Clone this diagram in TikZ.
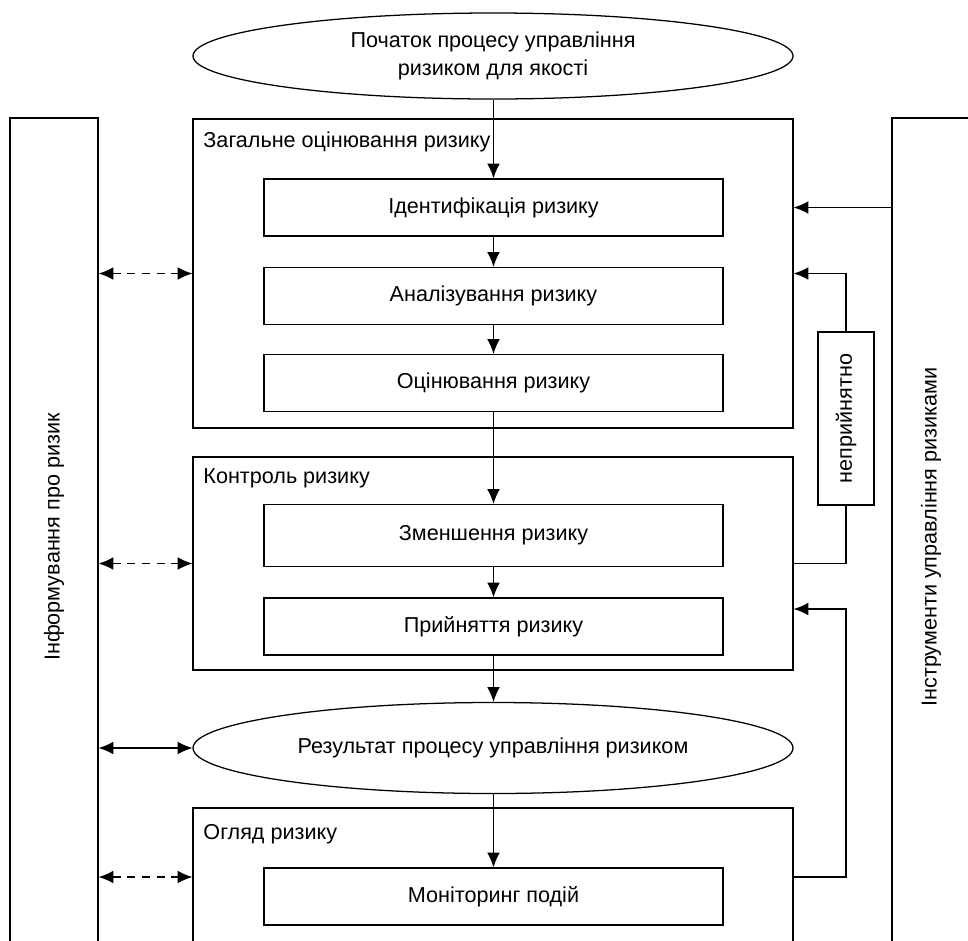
\documentclass[tikz,border=0pt]{standalone}
\usepackage{fontspec}
\setmainfont{Liberation Sans}
\usetikzlibrary{positioning, calc, shapes.geometric, arrows.meta}

\tikzset{
  box/.style={draw, minimum width=344.25pt, minimum height=42.75pt, inner sep=0pt},
  group/.style={draw, minimum width=450pt, inner sep=0pt},
  oval/.style={draw, ellipse, minimum width=450pt, inner sep=0pt},
  tall/.style={draw, minimum height=628.5pt, inner sep=0pt},
  title/.style={anchor=west},
  dasharrow/.style={<->, dash pattern=on 6pt off 5pt},
}

\begin{document}
\begin{tikzpicture}[x=0.75pt, y=-0.75pt, >={Latex[length=11pt,width=9.5pt]},
  line width=0.95pt, font=\fontsize{16.2pt}{20.5pt}\selectfont]

\useasboundingbox (0,0) rectangle (968,940);
\clip (0,0) rectangle (968,940);

% side columns
\node[tall, minimum width=66pt, label={[rotate=90]center:Інформування про ризик}] (info) at (54,537) {};
\node[tall, minimum width=58.5pt, label={[rotate=90]center:Інструменти управління ризиками}] (tools) at (931,537) {};

% start and result
\node[oval, minimum height=64.5pt, label={[align=center]center:Початок процесу управління\\ризиком для якості}] (start) at (493,56) {};
\node[oval, minimum height=68.25pt] (res) at (493,748) {Результат процесу управління ризиком};

% groups
\node[group, minimum height=231.75pt] (g1) at (493,273.5) {};
\node[group, minimum height=159.75pt] (g2) at (493,563.5) {};
\node[group, minimum height=103.5pt] (g3) at (493,877) {};

\node[title] (g1t) at ($(g1.north west)+(6,24)$) {Загальне оцінювання ризику};
\node[title] (g2t) at ($(g2.north west)+(6,22)$) {Контроль ризику};
\node[title] (g3t) at ($(g3.north west)+(6,27)$) {Огляд ризику};

% steps
\node[box] (ident) at (493.5,207.5) {Ідентифікація ризику};
\node[box] (anal) at (493.5,296) {Аналізування ризику};
\node[box] (eval) at (493.5,383) {Оцінювання ризику};
\node[box, minimum height=46.5pt] (red) at (493.5,535.5) {Зменшення ризику};
\node[box] (acc) at (493.5,626.5) {Прийняття ризику};
\node[box] (mon) at (493.5,896.5) {Моніторинг подій};

% unacceptable
\node[draw, minimum width=42pt, minimum height=129.75pt, inner sep=0pt,
  label={[rotate=90]center:неприйнятно}] (rej) at (846,418.5) {};

% main flow
\draw[->] (start.south -| ident.north) -- (ident.north);
\draw[->] (ident) -- (anal);
\draw[->] (anal) -- (eval);
\draw[->] (eval) -- (red);
\draw[->] (red) -- (acc);
\draw[->] (acc.south) -- (res.north -| acc.south);
\draw[->] (res.south -| mon.north) -- (mon.north);

% communication
\foreach \g in {g1,g2,g3}
  \draw[dasharrow] (\g.west -| info.east) -- (\g.west);
\draw[<->] (res.west -| info.east) -- (res.west);

% feedback
\draw[->] (ident.east -| tools.west) -- (ident.east -| g1.east);
\draw (g2.east) -| (rej.south);
\draw[->] (rej.north) |- (g1.east);
\coordinate (back) at (846,609);
\draw[->] (g3.east) -| (back) -- (back -| g2.east);

\end{tikzpicture}
\end{document}
